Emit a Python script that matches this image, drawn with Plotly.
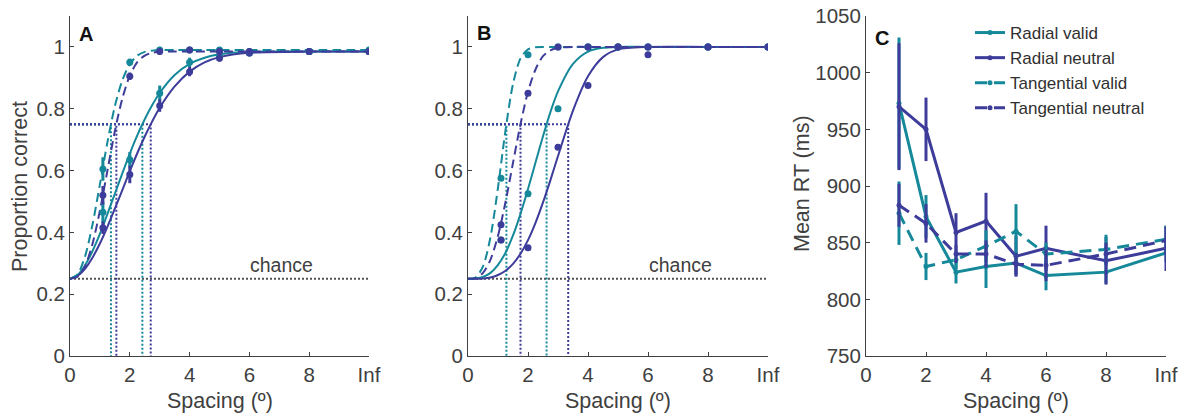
import plotly.graph_objects as go

TEAL = "#15899a"
PURPLE = "#3e3c9b"
GRAY = "#505050"
AXIS = "#404040"
FONT = "Liberation Sans"

conditions = ["Radial valid", "Radial neutral", "Tangential valid", "Tangential neutral"]
cond_colors = [TEAL, PURPLE, TEAL, PURPLE]
cond_dash = ["solid", "solid", "dash", "dash"]

spacing = [1.1, 2, 3, 4, 5, 6, 8, 10]
xtick_vals = [0, 2, 4, 6, 8, 10]
xtick_text = ["0", "2", "4", "6", "8", "Inf"]
acc_ticks = [0, 0.2, 0.4, 0.6, 0.8, 1]
acc_ticktext = ["0", "0.2", "0.4", "0.6", "0.8", "1"]
rt_ticks = [750, 800, 850, 900, 950, 1000, 1050]
chance_level = 0.25
threshold_level = 0.75

# ---------------- Panel A: group proportion correct (mean +/- sem) ----------------
accA_rv = [0.465, 0.635, 0.85, 0.95, 0.97, 0.98, 0.985, 0.985]
accA_rn = [0.415, 0.587, 0.81, 0.92, 0.963, 0.98, 0.985, 0.985]
accA_tv = [0.605, 0.95, 0.99, 0.99, 0.99, 0.985, 0.985, 0.99]
accA_tn = [0.52, 0.905, 0.985, 0.99, 0.985, 0.985, 0.985, 0.985]
errA_rv = [0.035, 0.025, 0.025, 0.015, 0.01, 0.01, 0.01, 0.01]
errA_rn = [0.02, 0.028, 0.02, 0.015, 0.01, 0.01, 0.01, 0.01]
errA_tv = [0.038, 0.012, 0.01, 0.008, 0.008, 0.008, 0.008, 0.008]
errA_tn = [0.03, 0.012, 0.01, 0.01, 0.008, 0.008, 0.008, 0.008]
thrA = [2.42, 2.70, 1.37, 1.55]

# fitted psychometric curves
fit_x = [0, 0.25, 0.5, 0.75, 1, 1.25, 1.5, 1.75, 2, 2.25, 2.5, 2.75, 3, 3.5, 4, 4.5, 5, 6, 8, 10]
fitA_rv = [0.25, 0.262, 0.293, 0.339, 0.395, 0.459, 0.525, 0.591, 0.655, 0.714, 0.766, 0.812,
           0.851, 0.909, 0.945, 0.965, 0.976, 0.984, 0.985, 0.985]
fitA_rn = [0.25, 0.259, 0.282, 0.318, 0.364, 0.418, 0.477, 0.537, 0.598, 0.656, 0.710, 0.759,
           0.803, 0.872, 0.920, 0.950, 0.967, 0.981, 0.985, 0.985]
fitA_tv = [0.25, 0.264, 0.321, 0.424, 0.555, 0.691, 0.808, 0.892, 0.944, 0.972, 0.984, 0.988,
           0.990, 0.990, 0.990, 0.990, 0.990, 0.990, 0.990, 0.990]
fitA_tn = [0.25, 0.257, 0.290, 0.362, 0.470, 0.599, 0.727, 0.833, 0.907, 0.951, 0.972, 0.981,
           0.984, 0.985, 0.985, 0.985, 0.985, 0.985, 0.985, 0.985]

# ---------------- Panel B: single observer proportion correct ----------------
accB_rv = [0.375, 0.525, 0.80, 1.0, 1.0, 1.0, 1.0, 1.0]
accB_rn = [0.375, 0.35, 0.675, 0.875, 1.0, 0.975, 1.0, 1.0]
accB_tv = [0.575, 0.975, 1.0, 1.0, 1.0, 1.0, 1.0, 1.0]
accB_tn = [0.425, 0.85, 1.0, 1.0, 1.0, 1.0, 1.0, 1.0]
thrB = [2.62, 3.34, 1.28, 1.75]

fitB_rv = [0.25, 0.251, 0.256, 0.269, 0.295, 0.334, 0.390, 0.460, 0.540, 0.626, 0.711, 0.790,
           0.856, 0.945, 0.985, 0.997, 1.0, 1.0, 1.0, 1.0]
fitB_rn = [0.25, 0.250, 0.251, 0.254, 0.262, 0.276, 0.298, 0.331, 0.375, 0.431, 0.497, 0.570,
           0.647, 0.794, 0.905, 0.967, 0.992, 1.0, 1.0, 1.0]
fitB_tv = [0.25, 0.254, 0.290, 0.385, 0.545, 0.730, 0.880, 0.963, 0.992, 0.999, 1.0, 1.0,
           1.0, 1.0, 1.0, 1.0, 1.0, 1.0, 1.0, 1.0]
fitB_tn = [0.25, 0.252, 0.269, 0.312, 0.389, 0.498, 0.625, 0.750, 0.855, 0.927, 0.970, 0.989,
           0.997, 1.0, 1.0, 1.0, 1.0, 1.0, 1.0, 1.0]

# ---------------- Panel C: mean RT (ms) ----------------
rt_rv = [973, 873, 824, 829, 832, 821, 824, 841]
rt_rn = [970, 950, 859, 869, 838, 845, 834, 845]
rt_tv = [876, 829, 835, 847, 860, 840, 844, 853]
rt_tn = [883, 867, 840, 840, 831, 830, 840, 852]
rterr_rv = [58, 19, 10, 19, 10, 13, 10, 8]
rterr_rn = [56, 28, 17, 25, 18, 20, 21, 20]
rterr_tv = [28, 12, 8, 14, 24, 10, 13, 12]
rterr_tn = [19, 17, 8, 12, 10, 14, 10, 12]

fig = go.Figure()

DASH_FIT = "9px,5px"
DASH_RT = "12px,7px"
DOT = "2px,2px"


def psych_panel(xa, ya, acc, errs, fits, thr):
    # chance line
    fig.add_trace(go.Scatter(x=[0, 10], y=[chance_level, chance_level], mode="lines",
                             line=dict(color=GRAY, width=2, dash=DOT), xaxis=xa, yaxis=ya,
                             showlegend=False, hoverinfo="skip"))
    # threshold lines
    for i in range(4):
        fig.add_trace(go.Scatter(x=[0, thr[i], thr[i]], y=[threshold_level, threshold_level, 0],
                                 mode="lines", line=dict(color=cond_colors[i], width=2, dash=DOT),
                                 xaxis=xa, yaxis=ya, showlegend=False, hoverinfo="skip"))
    # fits
    for i in range(4):
        fig.add_trace(go.Scatter(x=fit_x, y=fits[i], mode="lines",
                                 line=dict(color=cond_colors[i], width=2, shape="spline", smoothing=0.8,
                                           dash=DASH_FIT if cond_dash[i] == "dash" else "solid"),
                                 xaxis=xa, yaxis=ya, showlegend=False, hoverinfo="skip"))
    # data
    for i in range(4):
        kw = {}
        if errs is not None:
            kw["error_y"] = dict(type="data", array=errs[i], color=cond_colors[i], thickness=3, width=0)
        fig.add_trace(go.Scatter(x=spacing, y=acc[i], mode="markers",
                                 marker=dict(color=cond_colors[i], size=7),
                                 xaxis=xa, yaxis=ya, showlegend=False, name=conditions[i], **kw))


psych_panel("x", "y", [accA_rv, accA_rn, accA_tv, accA_tn],
            [errA_rv, errA_rn, errA_tv, errA_tn],
            [fitA_rv, fitA_rn, fitA_tv, fitA_tn], thrA)
psych_panel("x2", "y2", [accB_rv, accB_rn, accB_tv, accB_tn], None,
            [fitB_rv, fitB_rn, fitB_tv, fitB_tn], thrB)

rts = [rt_rv, rt_rn, rt_tv, rt_tn]
rterrs = [rterr_rv, rterr_rn, rterr_tv, rterr_tn]
for i in range(4):
    fig.add_trace(go.Scatter(x=spacing, y=rts[i], mode="lines+markers", name=conditions[i],
                             line=dict(color=cond_colors[i], width=3,
                                       dash=DASH_RT if cond_dash[i] == "dash" else "solid"),
                             marker=dict(color=cond_colors[i], size=5),
                             error_y=dict(type="data", array=rterrs[i], color=cond_colors[i],
                                          thickness=3, width=0),
                             xaxis="x3", yaxis="y3", showlegend=True))

W, H = 1182, 416
ydom = [(H - 356) / H, (H - 16) / H]
xdoms = [[70 / W, 369 / W], [468 / W, 768 / W], [866 / W, 1166 / W]]

tickfont = dict(family=FONT, size=20.5, color=AXIS)
common_x = dict(range=[0, 10], tickvals=xtick_vals, ticktext=xtick_text, showgrid=False, zeroline=False,
                showline=True, linecolor=AXIS, linewidth=1, ticks="inside", ticklen=4, tickcolor=AXIS,
                tickfont=tickfont, fixedrange=True, automargin=False)
common_y = dict(showgrid=False, zeroline=False, showline=True, linecolor=AXIS, linewidth=1,
                ticks="inside", ticklen=4, tickcolor=AXIS, tickfont=tickfont, domain=ydom,
                fixedrange=True, automargin=False)

layout = dict(
    width=W, height=H, margin=dict(l=0, r=0, t=0, b=0, autoexpand=False),
    paper_bgcolor="white", plot_bgcolor="white",
    font=dict(family=FONT, color=AXIS),
    xaxis=dict(common_x, domain=xdoms[0], anchor="y"),
    xaxis2=dict(common_x, domain=xdoms[1], anchor="y2"),
    xaxis3=dict(common_x, domain=xdoms[2], anchor="y3"),
    yaxis=dict(common_y, range=[0, 1.1], tickvals=acc_ticks, ticktext=acc_ticktext, anchor="x"),
    yaxis2=dict(common_y, range=[0, 1.1], tickvals=acc_ticks, ticktext=acc_ticktext, anchor="x2"),
    yaxis3=dict(common_y, range=[750, 1050], tickvals=rt_ticks, anchor="x3"),
    showlegend=True,
    legend=dict(x=970 / W, y=1 - 15 / H, xanchor="left", yanchor="top", bgcolor="rgba(0,0,0,0)",
                font=dict(family=FONT, size=17, color="#303030"), itemwidth=30, tracegroupgap=0),
)
fig.update_layout(**layout)

annots = []
titlefont = dict(family=FONT, size=21.5, color=AXIS)
for xc in [220, 618, 1016]:
    annots.append(dict(text="Spacing (º)", x=xc / W, y=1 - 401 / H, xref="paper", yref="paper",
                       showarrow=False, font=titlefont, xanchor="center", yanchor="middle"))
annots.append(dict(text="Proportion correct", x=20 / W, y=1 - 187 / H, xref="paper", yref="paper",
                   showarrow=False, font=titlefont, textangle=-90, xanchor="center", yanchor="middle"))
annots.append(dict(text="Mean RT (ms)", x=802 / W, y=1 - 184 / H, xref="paper", yref="paper",
                   showarrow=False, font=titlefont, textangle=-90, xanchor="center", yanchor="middle"))
for lab, px, py in [("A", 77, 34), ("B", 475, 33), ("C", 873, 38)]:
    annots.append(dict(text="<b>%s</b>" % lab, x=px / W, y=1 - py / H, xref="paper", yref="paper",
                       showarrow=False, font=dict(family=FONT, size=20, color="#111111"),
                       xanchor="left", yanchor="middle"))
for xa, ya in [("x", "y"), ("x2", "y2")]:
    annots.append(dict(text="chance", x=7.07, y=0.295, xref=xa, yref=ya, showarrow=False,
                       font=dict(family=FONT, size=19.5, color="#404040"),
                       xanchor="center", yanchor="middle"))
fig.update_layout(annotations=annots)

fig.write_html("out.html", config={"displayModeBar": False, "staticPlot": True},
               post_script="document.body.style.margin='0px';document.body.style.overflow='hidden';")
